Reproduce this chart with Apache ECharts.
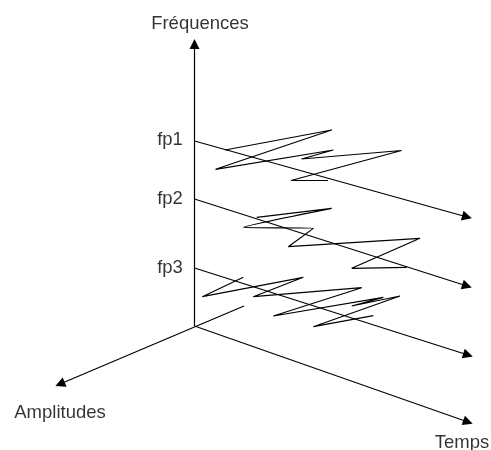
<!DOCTYPE html>
<html>
<head>
<meta charset="utf-8">
<script src="https://cdn.jsdelivr.net/npm/echarts@6/dist/echarts.min.js"></script>
<style>
html,body{margin:0;padding:0;background:#fff;}
#c{width:491px;height:450px;}
</style>
</head>
<body>
<div id="c"></div>
<script>
// Diagram coordinates (x to the right, y downward)
const axisNames = ['Fréquences', 'Amplitudes', 'Temps'];
const axisNamePos = [[200, 24], [60, 413], [462, 443]];
const freqLabels = ['fp1', 'fp2', 'fp3'];
const freqLabelPos = [[170, 140], [170, 199], [170, 267.5]];

// Arrows: [start, end]
const mainAxes = [
  [[194.5, 326], [194.5, 44]],   // Fréquences
  [[244, 306], [60, 384]],       // Amplitudes
  [[194.5, 326], [468, 422]]     // Temps
];
const freqArrows = [
  [[194.5, 141], [467, 217]],
  [[194.5, 199], [467, 286]],
  [[194.5, 268], [468, 355]]
];

// Hand-drawn signal curves (loop tips)
const curveFp1 = [[225, 150], [331.7, 130], [215.5, 169.3], [333.3, 150], [301.5, 159], [401.5, 150.5], [291, 180.5], [328, 180.5]];
const curveFp2 = [[256.7, 217.3], [331.7, 208.3], [243.3, 227.3], [313.3, 228.3], [288.3, 246.7], [420, 238.3], [351.7, 268.3], [406.7, 267.3]];
const curveFp3 = [[243.3, 277.3], [202.3, 296.7], [303.3, 277.3], [253.3, 296.7], [361.7, 287.7], [273.3, 316], [383.3, 297.3], [351.7, 306], [400, 296], [313.3, 326.7], [373.3, 315.7]];

const chart = echarts.init(document.getElementById('c'), null, {renderer: 'canvas'});
const font = '"Liberation Sans", Arial, sans-serif';
const ink = '#000';

function arrowData(list) {
  return list.map(function (seg) { return {coords: seg}; });
}
function curveSeries(pts) {
  return {
    type: 'line', data: pts, smooth: 0.2, symbol: 'none', silent: true,
    lineStyle: {color: ink, width: 1.2}, z: 3
  };
}
function labelSeries(names, pos) {
  return {
    type: 'scatter', symbolSize: 0, silent: true,
    data: names.map(function (n, i) { return {name: n, value: pos[i]}; }),
    label: {show: true, position: 'inside', formatter: '{b}', color: ink,
      fontFamily: font, fontSize: 18.5, align: 'center', verticalAlign: 'middle'}
  };
}

chart.setOption({
  animation: false,
  backgroundColor: '#fff',
  grid: {left: 0, right: 0, top: 0, bottom: 0},
  xAxis: {type: 'value', min: 0, max: 491, show: false},
  yAxis: {type: 'value', min: 0, max: 450, inverse: true, show: false},
  series: [
    {
      type: 'lines', coordinateSystem: 'cartesian2d', silent: true,
      data: arrowData(mainAxes.concat(freqArrows)),
      symbol: ['none', 'triangle'], symbolSize: [8, 10],
      lineStyle: {color: ink, width: 1.2, opacity: 1},
      itemStyle: {color: ink}, z: 2
    },
    curveSeries(curveFp1),
    curveSeries(curveFp2),
    curveSeries(curveFp3),
    labelSeries(axisNames, axisNamePos),
    labelSeries(freqLabels, freqLabelPos)
  ]
});
</script>
</body>
</html>
